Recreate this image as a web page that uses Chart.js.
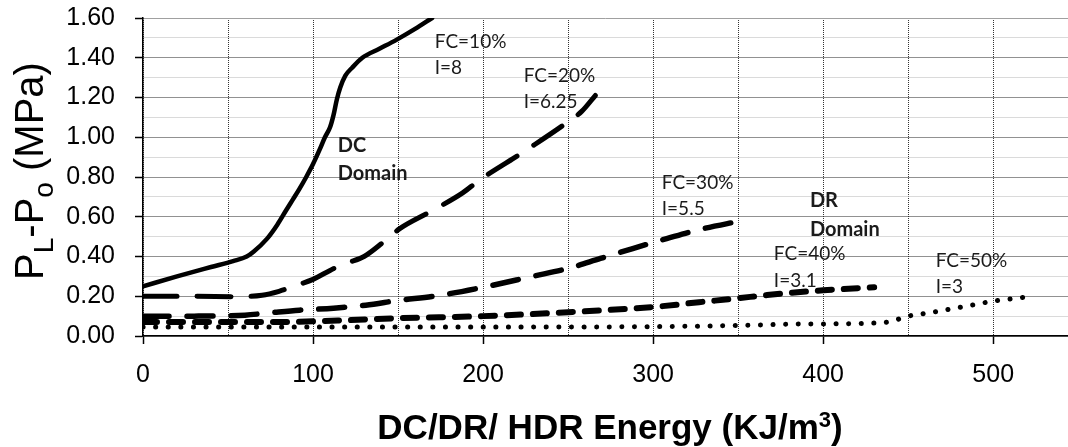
<!DOCTYPE html>
<html>
<head>
<meta charset="utf-8">
<script src="https://cdn.jsdelivr.net/npm/chart.js@4.4.1/dist/chart.umd.min.js"></script>
<style>
  body { margin: 0; background: #fff; }
  #wrap { width: 1068px; height: 447px; }
</style>
</head>
<body>
<div id="wrap"><canvas id="chart" width="1068" height="447"></canvas></div>
<script>
// axis ticks
const xTicks = [0, 50, 100, 150, 200, 250, 300, 350, 400, 450, 500];
const yTicks = [0, 0.1, 0.2, 0.3, 0.4, 0.5, 0.6, 0.7, 0.8, 0.9, 1.0, 1.1, 1.2, 1.3, 1.4, 1.5, 1.6];

// FC=10%, I=8
const fc10Energy = [0, 20, 40, 53, 61, 65, 73, 79, 84, 88, 92, 96, 100, 104, 107, 110, 112, 114, 116, 119, 123, 129, 139, 149, 160, 170];
const fc10Pressure = [0.25, 0.30, 0.347, 0.377, 0.40, 0.424, 0.49, 0.56, 0.63, 0.685, 0.74, 0.80, 0.865, 0.94, 1.00, 1.05, 1.11, 1.19, 1.25, 1.31, 1.35, 1.40, 1.445, 1.49, 1.545, 1.60];

// FC=20%, I=6.25
const fc20Energy = [0, 30, 55, 70, 80, 92, 100, 110, 116, 121, 130, 141, 151, 170, 188, 198, 219, 228, 247, 258, 266];
const fc20Pressure = [0.20, 0.20, 0.198, 0.205, 0.225, 0.26, 0.285, 0.33, 0.355, 0.37, 0.40, 0.47, 0.54, 0.63, 0.72, 0.785, 0.90, 0.95, 1.06, 1.13, 1.21];

// FC=30%, I=5.5
const fc30Energy = [0, 30, 60, 75, 92, 112, 131, 151, 171, 200, 229, 250, 269, 288, 308, 327, 352];
const fc30Pressure = [0.10, 0.10, 0.105, 0.117, 0.13, 0.14, 0.155, 0.18, 0.20, 0.245, 0.30, 0.34, 0.39, 0.44, 0.49, 0.535, 0.58];

// FC=40%, I=3.1
const fc40Energy = [0, 30, 60, 92, 121, 151, 200, 250, 300, 327, 350, 367, 400, 430];
const fc40Pressure = [0.07, 0.07, 0.07, 0.072, 0.08, 0.09, 0.10, 0.12, 0.146, 0.17, 0.19, 0.206, 0.23, 0.245];

// FC=50%, I=3
const fc50Energy = [0, 100, 200, 300, 350, 386, 430, 441, 448, 465, 484, 500, 520];
const fc50Pressure = [0.045, 0.045, 0.045, 0.047, 0.053, 0.06, 0.065, 0.075, 0.096, 0.12, 0.15, 0.175, 0.197];

// text notes inside the plot (data units)
const notes = [
  { text: 'FC=10%', x: 171.6, y: 1.479 },
  { text: 'I=8', x: 171.6, y: 1.348 },
  { text: 'FC=20%', x: 223.9, y: 1.308 },
  { text: 'I=6.25', x: 223.9, y: 1.177 },
  { text: 'FC=30%', x: 305.1, y: 0.770 },
  { text: 'I=5.5', x: 305.1, y: 0.639 },
  { text: 'FC=40%', x: 371.0, y: 0.413 },
  { text: 'I=3.1', x: 371.0, y: 0.277 },
  { text: 'FC=50%', x: 466.2, y: 0.377 },
  { text: 'I=3', x: 466.2, y: 0.247 },
  { text: 'DC', x: 114.5, y: 0.956, bold: true },
  { text: 'Domain', x: 114.5, y: 0.815, bold: true },
  { text: 'DR', x: 392.2, y: 0.684, bold: true },
  { text: 'Domain', x: 392.2, y: 0.538, bold: true }
];

function pts(xs, ys) {
  return xs.map((v, i) => ({ x: v, y: ys[i] }));
}

function drawParts(ctx, parts, weight) {
  let total = 0;
  parts.forEach(p => {
    ctx.font = weight + ' ' + p[2] + 'px Arial, "Liberation Sans"';
    p.w = ctx.measureText(p[0]).width;
    total += p.w;
  });
  let cx = -total / 2;
  parts.forEach(p => {
    ctx.font = weight + ' ' + p[2] + 'px Arial, "Liberation Sans"';
    ctx.fillText(p[0], cx, p[1]);
    cx += p.w;
  });
}

const textPlugin = {
  id: 'texts',
  afterDatasetsDraw(chart) {
    const { ctx, scales: { x, y } } = chart;
    ctx.save();
    ctx.textBaseline = 'middle';
    ctx.textAlign = 'left';
    ctx.fillStyle = '#1b1b1b';
    notes.forEach(n => {
      ctx.font = n.bold ? 'bold 20px Lato' : '19px Lato';
      ctx.fillText(n.text, x.getPixelForValue(n.x), y.getPixelForValue(n.y));
    });
    ctx.restore();
  },
  afterDraw(chart) {
    const ctx = chart.ctx;
    ctx.save();
    ctx.fillStyle = '#000';
    ctx.textAlign = 'left';
    ctx.textBaseline = 'alphabetic';

    // y title with subscripts
    ctx.save();
    ctx.translate(43, 171);
    ctx.rotate(-Math.PI / 2);
    drawParts(ctx, [['P', 0, 40], ['L', 10, 28], ['-P', 0, 40], ['o', 10, 28], [' (MPa)', 0, 40]], 'normal');
    ctx.restore();

    // x title with superscript
    ctx.save();
    ctx.translate(610, 439);
    drawParts(ctx, [['DC/DR/ HDR Energy (KJ/m', 0, 35], ['3', -12, 22], [')', 0, 35]], 'bold');
    ctx.restore();

    ctx.restore();
  }
};

const common = {
  borderColor: '#000',
  pointRadius: 0,
  fill: false,
  cubicInterpolationMode: 'monotone',
  borderCapStyle: 'round',
  borderJoinStyle: 'round'
};

new Chart(document.getElementById('chart'), {
  type: 'line',
  data: {
    datasets: [
      { ...common, label: 'FC=10%', data: pts(fc10Energy, fc10Pressure), borderWidth: 4.5, borderDash: [] },
      { ...common, label: 'FC=20%', data: pts(fc20Energy, fc20Pressure), borderWidth: 5, borderDash: [34, 20] },
      { ...common, label: 'FC=30%', data: pts(fc30Energy, fc30Pressure), borderWidth: 5.5, borderDash: [26, 18] },
      { ...common, label: 'FC=40%', data: pts(fc40Energy, fc40Pressure), borderWidth: 6, borderDash: [14, 12] },
      { ...common, label: 'FC=50%', data: pts(fc50Energy, fc50Pressure), borderWidth: 5, borderDash: [0.1, 12.5] }
    ]
  },
  options: {
    responsive: false,
    devicePixelRatio: 1,
    animation: false,
    layout: { padding: { top: 18, left: 0, right: 0, bottom: 0 } },
    plugins: { legend: { display: false }, tooltip: { enabled: false } },
    scales: {
      x: {
        type: 'linear',
        min: 0,
        max: 544,
        afterBuildTicks: s => { s.ticks = xTicks.map(v => ({ value: v })); },
        afterFit: s => { s.height = 111; s.paddingLeft = 0; s.paddingRight = 0; },
        ticks: {
          autoSkip: false,
          maxRotation: 0,
          padding: 16,
          color: '#000',
          font: { size: 25, family: 'Arial, "Liberation Sans"' },
          callback: v => (v % 100 === 0 ? String(v) : '')
        },
        grid: {
          color: '#333',
          lineWidth: 1,
          tickLength: 8,
          tickWidth: 1.5,
          tickColor: c => (c.tick && c.tick.value % 100 === 0 ? '#000' : 'rgba(0,0,0,0)')
        },
        border: { color: '#000', width: 1.5, dash: [1, 1] }
      },
      y: {
        type: 'linear',
        min: 0,
        max: 1.6,
        afterBuildTicks: s => { s.ticks = yTicks.map(v => ({ value: v })); },
        afterFit: s => { s.width = 143; s.paddingTop = 0; s.paddingBottom = 0; },
        ticks: {
          autoSkip: false,
          padding: 20,
          color: '#000',
          font: { size: 25, family: 'Arial, "Liberation Sans"' },
          callback: v => (Math.round(v * 10) % 2 === 0 ? v.toFixed(2) : '')
        },
        grid: {
          lineWidth: 1,
          tickLength: 8,
          tickWidth: 1.5,
          color: c => {
            if (!c.tick) return '#555';
            const t = Math.round(c.tick.value * 10);
            if (t === 16) return '#a0a0a0';
            return t % 2 === 0 ? '#222' : '#b5b5b5';
          },
          tickColor: c => (c.tick && Math.round(c.tick.value * 10) % 2 === 0 ? '#000' : 'rgba(0,0,0,0)')
        },
        border: {
          color: '#000',
          width: 1.5,
          dash: c => (c.tick && Math.round(c.tick.value * 10) === 16 ? [] : [1, 1])
        }
      }
    }
  },
  plugins: [textPlugin]
});
</script>
</body>
</html>
